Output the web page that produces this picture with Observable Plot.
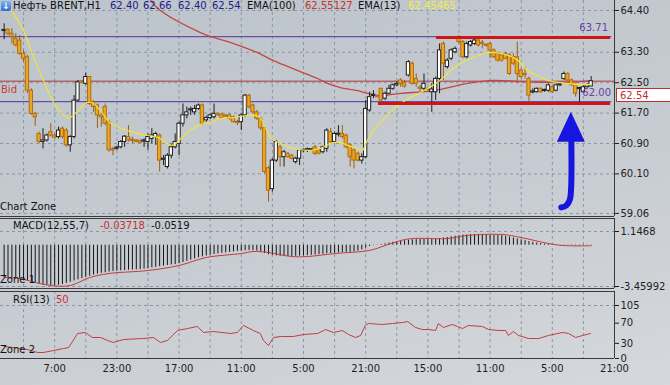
<!DOCTYPE html>
<html><head><meta charset="utf-8">
<script src="https://cdn.jsdelivr.net/npm/d3@7"></script>
<script src="https://cdn.jsdelivr.net/npm/@observablehq/plot@0.6"></script>
<style>
html,body{margin:0;padding:0;}
body{width:670px;height:385px;overflow:hidden;background:linear-gradient(165deg,#bcc3ca 0%,#c7ccd2 55%,#d5d8dc 100%);font-family:"DejaVu Sans",sans-serif;font-size:10px;}
#wrap{position:relative;width:670px;height:385px;}
#wrap svg{position:absolute;left:0;}
.lbl{position:absolute;white-space:nowrap;font-size:10px;line-height:12px;z-index:5;}
</style></head><body><div id="wrap"></div>
<script>
// ---------- data ----------
const openP = [63.86,63.89,63.79,63.65,63.61,63.26,63.17,62.29,61.68,61.15,
60.94,60.98,61.20,61.11,61.07,61.29,61.24,60.85,61.07,62.03,
62.53,62.47,62.65,61.99,61.90,61.64,61.86,61.46,60.74,60.76,
60.80,60.94,61.07,60.98,60.98,60.97,60.95,60.94,61.02,61.07,
61.11,60.47,60.28,60.58,60.80,60.89,61.42,61.64,61.77,61.72,
61.81,61.90,61.51,61.57,61.59,61.68,61.66,61.62,61.64,61.59,
61.45,61.46,61.64,62.16,61.90,61.72,61.55,61.30,60.25,59.70,
60.45,60.80,60.54,60.63,60.58,60.41,60.50,60.70,60.72,60.72,
60.80,60.72,60.67,60.76,61.20,60.94,61.13,61.15,61.11,60.85,
60.72,60.63,60.45,60.54,61.77,62.15,62.14,62.34,62.08,62.21,
62.34,62.43,62.56,62.50,62.69,63.00,62.60,62.35,62.34,62.33,
62.25,62.25,62.60,63.52,62.91,63.13,63.30,63.70,63.57,63.17,
63.48,63.52,63.61,63.53,63.48,63.52,63.35,63.26,63.22,63.26,
63.22,63.17,63.17,62.82,62.72,62.60,62.24,62.25,62.34,62.28,
62.29,62.38,62.29,62.43,62.60,62.73,62.56,62.43,62.33,62.25,
62.38,62.40];
const highP = [64.05,63.92,63.92,63.79,63.74,63.35,63.22,62.34,61.72,61.20,
61.29,61.15,61.42,61.15,61.33,61.33,61.29,61.11,62.16,62.56,
62.56,62.75,62.66,62.03,61.94,61.72,61.94,61.51,60.80,60.82,
60.98,61.11,61.37,61.07,61.00,60.99,61.02,61.15,61.29,61.20,
61.15,60.58,60.63,60.89,61.15,61.46,61.94,61.86,61.86,61.90,
61.94,61.94,61.62,61.68,61.94,61.70,61.70,61.65,61.68,61.62,
61.51,61.68,62.19,62.19,61.94,61.77,61.59,61.33,60.30,60.50,
60.98,60.85,60.72,60.66,60.61,60.54,60.74,60.76,60.78,60.76,
60.85,60.74,60.83,61.29,61.29,61.20,61.37,61.37,61.15,60.89,
60.76,60.67,60.63,62.03,62.25,62.29,62.16,62.34,62.25,62.43,
62.46,62.52,62.60,62.56,63.08,63.04,62.73,62.43,62.73,62.36,
62.47,62.65,63.52,63.57,63.13,63.39,63.44,63.74,63.61,63.57,
63.61,63.65,63.65,63.61,63.52,63.57,63.39,63.30,63.26,63.30,
63.26,63.26,63.57,62.86,62.91,62.65,62.34,62.36,62.36,62.33,
62.47,62.42,62.47,62.47,62.78,62.76,62.60,62.47,62.38,62.43,
62.47,62.66];
const lowP = [63.63,63.74,63.52,63.44,63.22,63.04,62.21,61.64,61.35,60.89,
60.76,60.94,61.07,61.02,61.02,61.02,60.80,60.67,61.02,61.99,
62.47,62.43,61.90,61.72,61.29,61.33,61.37,60.67,60.58,60.72,
60.76,60.80,60.94,60.89,60.92,60.90,60.80,60.72,60.89,60.85,
60.15,60.32,60.23,60.50,60.76,60.58,61.33,61.55,61.64,61.64,
61.77,61.37,61.46,61.53,61.55,61.62,61.55,61.58,61.51,61.44,
61.37,61.24,61.59,61.81,61.68,61.51,61.24,60.10,59.36,59.62,
60.40,60.28,60.28,60.52,60.47,60.36,60.32,60.66,60.66,60.69,
60.58,60.60,60.63,60.67,60.89,60.89,61.07,61.02,60.76,60.28,
60.23,60.41,60.36,60.50,61.72,62.08,62.10,62.01,62.03,62.19,
62.30,62.40,62.38,62.36,62.65,62.43,62.38,62.25,62.25,62.27,
61.72,62.03,62.21,62.56,62.86,63.08,63.26,63.52,63.13,63.13,
63.44,63.48,63.44,63.39,63.44,63.13,63.13,63.04,63.04,63.10,
62.69,62.95,62.47,62.60,62.60,61.99,62.21,62.23,62.22,62.25,
62.25,62.22,62.26,62.40,62.56,62.52,62.40,62.12,61.99,62.22,
62.36,62.40];
const closeP = [63.89,63.79,63.70,63.48,63.26,63.13,62.29,61.68,61.59,60.94,
60.98,61.11,61.11,61.05,61.24,61.07,60.85,61.07,62.03,62.51,
62.50,62.65,61.94,61.86,61.64,61.59,61.42,60.72,60.72,60.78,
60.94,61.08,60.98,60.97,60.94,60.92,60.96,61.07,61.11,61.15,
60.45,60.50,60.58,60.80,60.94,61.42,61.64,61.72,61.78,61.81,
61.90,61.42,61.57,61.64,61.68,61.64,61.57,61.61,61.55,61.46,
61.44,61.64,62.16,61.86,61.72,61.55,61.30,60.15,59.66,60.45,
60.94,60.54,60.67,60.54,60.50,60.50,60.72,60.72,60.74,60.73,
60.63,60.63,60.80,61.24,60.94,61.15,61.15,61.07,60.80,60.54,
60.45,60.45,60.54,61.81,62.12,62.17,62.12,62.03,62.21,62.34,
62.43,62.47,62.47,62.40,63.04,62.47,62.47,62.34,62.47,62.31,
62.32,62.60,63.35,63.00,63.08,63.35,63.39,63.57,63.17,63.52,
63.57,63.61,63.48,63.52,63.47,63.35,63.17,63.08,63.08,63.13,
62.73,63.00,62.73,62.65,62.70,62.16,62.25,62.34,62.25,62.29,
62.43,62.25,62.43,62.44,62.73,62.56,62.43,62.21,62.34,62.38,
62.43,62.54];

// EMA(13) and EMA(100): [bar index, price]
const ema13Pts = [[1.2,64.50],[5.0,63.87],[7.6,63.16],[10.1,62.56],[13.2,61.90],[16.6,61.58],[19.1,61.77],[21.4,61.98],[23.0,61.95],[25.3,61.69],[27.4,61.43],[31.7,61.24],[36.9,61.11],[39.5,61.06],[43.3,60.85],[45.4,61.03],[48.5,61.29],[51.3,61.43],[53.1,61.45],[55.7,61.56],[59.0,61.58],[62.6,61.64],[64.7,61.64],[66.0,61.56],[67.2,61.32],[68.5,61.06],[71.1,60.90],[74.4,60.77],[78.8,60.72],[81.4,60.77],[83.9,60.90],[86.5,60.93],[88.3,60.85],[90.9,60.77],[92.2,60.72],[93.0,60.90],[95.0,61.24],[98.6,61.64],[102.0,61.95],[104.5,62.11],[107.1,62.24],[111.5,62.51],[114.0,62.74],[117.4,63.01],[120.7,63.16],[124.3,63.29],[127.7,63.27],[131.0,63.16],[132.8,63.03],[134.6,62.82],[137.2,62.69],[139.8,62.56],[142.3,62.51],[144.9,62.48],[147.5,62.45],[150.8,62.45]];
const ema100Pts = [[37.7,64.66],[40.2,64.40],[50.5,63.82],[53.9,63.69],[59.0,63.53],[65.2,63.29],[69.3,63.08],[75.5,62.82],[80.6,62.61],[83.2,62.48],[86.5,62.37],[90.9,62.29],[93.5,62.22],[96.8,62.16],[102.0,62.22],[110.4,62.29],[119.2,62.48],[125.9,62.56],[132.0,62.53],[138.0,62.51],[144.9,62.51],[150.8,62.55]];

// MACD histogram per bar and signal line
const macdHist = [-2.70,-2.75,-2.80,-2.80,-2.85,-2.90,-3.00,-3.10,-3.20,-3.25,
-3.30,-3.35,-3.38,-3.38,-3.36,-3.30,-3.20,-3.10,-3.00,-2.90,
-2.80,-2.70,-2.60,-2.50,-2.42,-2.36,-2.30,-2.25,-2.20,-2.18,
-2.15,-2.12,-2.10,-2.08,-2.06,-2.04,-2.00,-1.95,-1.90,-1.85,
-1.80,-1.75,-1.70,-1.66,-1.62,-1.55,-1.45,-1.35,-1.25,-1.15,
-1.05,-0.98,-0.90,-0.84,-0.78,-0.72,-0.68,-0.64,-0.60,-0.56,
-0.52,-0.50,-0.46,-0.44,-0.45,-0.50,-0.58,-0.70,-0.80,-0.86,
-0.90,-0.94,-0.96,-0.96,-0.95,-0.93,-0.92,-0.90,-0.88,-0.85,
-0.82,-0.80,-0.76,-0.72,-0.70,-0.68,-0.65,-0.62,-0.60,-0.60,
-0.58,-0.50,-0.40,-0.25,-0.10,-0.03,0.02,0.06,0.12,0.18,
0.24,0.30,0.35,0.38,0.42,0.45,0.47,0.48,0.49,0.50,
0.50,0.52,0.56,0.60,0.64,0.70,0.75,0.80,0.84,0.86,
0.88,0.90,0.90,0.90,0.88,0.86,0.84,0.82,0.80,0.74,
0.68,0.60,0.52,0.45,0.38,0.30,0.24,0.18,0.13,0.09,
0.06,0.03,0.01,-0.01,-0.02,-0.03,-0.04,-0.05,-0.05,-0.04,
-0.04,-0.04];
const signalPts = [[0,-2.71],[4,-2.79],[8,-3.12],[12,-3.38],[17,-3.38],[22,-2.71],[27,-2.37],[37,-2.12],[45,-1.70],[52,-1.03],[61,-0.70],[64,-0.53],[68,-0.61],[74,-0.95],[78,-0.95],[85,-0.70],[94,-0.44],[98,-0.03],[102,0.39],[105,0.56],[114,0.56],[119,0.81],[128,0.90],[133,0.64],[140,0.14],[144,-0.03],[151,-0.05]];

// RSI(13)
const rsiPts = [[0,23.8],[2.4,21.8],[6.0,17.8],[8.6,11.9],[10.1,11.9],[12.7,15.8],[15.3,19.8],[16.6,21.8],[18.9,49.5],[20.9,51.5],[22.7,41.6],[24.8,41.6],[26.6,35.7],[28.1,31.7],[30.7,37.6],[35.9,39.6],[38.4,41.6],[40.2,31.7],[42.0,35.7],[44.6,55.5],[47.2,59.4],[49.7,63.4],[51.3,51.5],[53.9,53.5],[58.2,49.5],[60.0,51.5],[61.6,65.4],[64.1,55.5],[65.9,49.5],[66.7,35.7],[68.0,25.8],[69.3,41.6],[71.1,43.6],[74.4,43.6],[77.0,47.5],[80.6,49.5],[82.7,57.4],[84.7,51.5],[87.0,55.5],[88.6,47.5],[90.4,41.6],[91.7,45.6],[92.9,65.4],[93.7,69.3],[97.3,67.4],[99.9,69.3],[102.5,71.3],[103.8,73.3],[105.8,61.4],[107.6,57.4],[109.2,57.4],[111.0,55.5],[111.7,69.3],[113.0,61.4],[115.3,67.4],[116.6,63.4],[117.9,59.4],[119.4,65.4],[123.0,63.4],[124.6,57.4],[127.2,55.5],[129.0,55.5],[129.7,45.6],[131.0,53.5],[132.3,45.6],[134.9,39.6],[137.5,39.6],[140.0,45.6],[143.6,51.5],[145.2,49.5],[147.0,41.6],[148.8,45.6],[150.8,49.5]];

// ticks and levels
const priceTicks = [64.40, 63.30, 62.50, 61.70, 60.90, 60.10, 59.06];
const macdTicks = [1.1468, -3.45992];
const rsiTicks = [105, 70, 30, 0];
const rsiGrid = [105];
const xTickIdx = [13, 29, 45, 61, 77, 93, 109, 125, 141, 157];
const xTickLabels = ["7:00","23:00","17:00","11:00","5:00","21:00","15:00","11:00","5:00","21:00"];
const levelLines = [63.71, 62.00];
const bidPrice = 62.54;
const zonePrice = [63.69, 61.95];
const zoneFrom = [111.2, 96.3];
const zoneTo = [156.0, 156.0];
const arrowShaft = [[145.9,60.95],[145.85,59.75],[145.5,59.42],[144.6,59.27],[143.3,59.22]];
const arrowHead = [[142.3,60.93,60.93],[145.9,60.93,61.72],[149.5,60.93,60.93]];

// ---------- chart ----------
const W = 670;
const xDomain = [-0.93, 157];
const gridIdx = d3.range(5, 157, 8);
const gridColor = "#8c97a3";
const dash = {stroke: gridColor, strokeDasharray: "3,3", strokeWidth: 1};
const frameColor = "#3a3a3a";
const base = {width: W, marginLeft: 0, marginRight: 56,
  style: {background: "transparent", color: "#1e1e1e", fontFamily: "DejaVu Sans, sans-serif", fontSize: "10px", overflow: "visible"}};

const candles = closeP.map((c, i) => ({i, o: openP[i], h: highP[i], l: lowP[i], c, up: c >= openP[i]}));
const pts = a => a.map(([i, v]) => ({i, v}));
const zones = zonePrice.map((p, k) => ({p, from: zoneFrom[k], to: zoneTo[k]}));
const xLab = new Map(xTickIdx.map((d, k) => [d, xTickLabels[k]]));

const mainDomain = [58.979, 64.663];
const mainPlot = Plot.plot({...base, height: 217, marginTop: 0, marginBottom: 1,
  x: {domain: xDomain, axis: null},
  y: {domain: mainDomain, axis: "right", ticks: priceTicks, tickFormat: d => d.toFixed(2), tickSize: 4, tickPadding: 2, label: null},
  marks: [
    Plot.ruleY(priceTicks, dash),
    Plot.ruleX(gridIdx, dash),
    Plot.ruleY(levelLines, {x1: xDomain[0], x2: 156.3, stroke: "#5b2d9c", strokeWidth: 1}),
    Plot.ruleY([bidPrice], {stroke: "#b03636", strokeWidth: 1}),
    Plot.line(pts(ema100Pts), {x: "i", y: "v", stroke: "#c24848", strokeWidth: 1.3, curve: "catmull-rom"}),
    Plot.ruleX(candles, {x: "i", y1: "l", y2: "h", stroke: d => d.up ? "#1e1e1e" : "#9c600c", strokeWidth: 1}),
    Plot.rect(candles, {
      x1: d => d.i - 0.42, x2: d => d.i + 0.42,
      y1: d => Math.min(d.o, d.c),
      y2: d => Math.max(Math.max(d.o, d.c), Math.min(d.o, d.c) + 0.03),
      fill: d => d.up ? "#ffffff" : "#eda622",
      stroke: d => d.up ? "#1e1e1e" : "#b06e10", strokeWidth: 1}),
    Plot.line(pts(ema13Pts), {x: "i", y: "v", stroke: "#efe53a", strokeWidth: 1.2, curve: "catmull-rom"}),
    Plot.ruleY(zones, {y: "p", x1: "from", x2: "to", stroke: "#cf1515", strokeWidth: 3}),
    Plot.line(pts(arrowShaft), {x: "i", y: "v", stroke: "#1616e0", strokeWidth: 6, curve: "catmull-rom"}),
    Plot.areaY(arrowHead.map(([i, b, t]) => ({i, b, t})), {x: "i", y1: "b", y2: "t", fill: "#1616e0", curve: "linear"}),
    Plot.ruleY([mainDomain[0]], {stroke: frameColor}),
    Plot.ruleX([xDomain[1]], {stroke: frameColor})
  ]});
mainPlot.style.top = "0px";

const macdDomain = [-3.6274, 2.2357];
const macdPlot = Plot.plot({...base, height: 72, marginTop: 1, marginBottom: 1,
  x: {domain: xDomain, axis: null},
  y: {domain: macdDomain, axis: "right", ticks: macdTicks, tickFormat: d => String(d), tickSize: 4, tickPadding: 2, label: null},
  marks: [
    Plot.ruleY(macdTicks, dash),
    Plot.ruleX(gridIdx, dash),
    Plot.ruleX(macdHist.map((v, i) => ({i, v})), {x: "i", y1: 0, y2: "v", stroke: "#151515", strokeWidth: 1}),
    Plot.line(pts(signalPts), {x: "i", y: "v", stroke: "#c83a3a", strokeWidth: 1, curve: "catmull-rom"}),
    Plot.ruleY(macdDomain, {stroke: frameColor}),
    Plot.ruleX([xDomain[1]], {stroke: frameColor})
  ]});
macdPlot.style.top = "217px";

const rsiDomain = [0, 132.7];
const rsiPlot = Plot.plot({...base, height: 95, marginTop: 1, marginBottom: 27,
  x: {domain: xDomain, axis: "bottom", ticks: xTickIdx, tickFormat: d => xLab.get(d), tickSize: 0, tickPadding: 6, label: null},
  y: {domain: rsiDomain, axis: "right", ticks: rsiTicks, tickFormat: d => String(d), tickSize: 4, tickPadding: 2, label: null},
  marks: [
    Plot.ruleY(rsiGrid, dash),
    Plot.ruleX(gridIdx, dash),
    Plot.line(pts(rsiPts), {x: "i", y: "v", stroke: "#c23e3e", strokeWidth: 1}),
    Plot.ruleY(rsiDomain, {stroke: frameColor}),
    Plot.ruleX([xDomain[1]], {stroke: frameColor})
  ]});
rsiPlot.style.top = "290px";

const wrap = document.getElementById("wrap");
wrap.append(mainPlot, macdPlot, rsiPlot);

// ---------- text overlays ----------
const labels = [
  {t: "Нефть BRENT,H1", x: 13, y: 0, c: "#111"},
  {t: "62.40", x: 110, y: 0, c: "#1c1c8c"},
  {t: "62.66", x: 143, y: 0, c: "#1c1c8c"},
  {t: "62.40", x: 178, y: 0, c: "#1c1c8c"},
  {t: "62.54", x: 212, y: 0, c: "#1c1c8c"},
  {t: "EMA(100)", x: 247, y: 0, c: "#111"},
  {t: "62.55127", x: 305, y: 0, c: "#c83030"},
  {t: "EMA(13)", x: 358, y: 0, c: "#111"},
  {t: "62.45465", x: 408, y: 0, c: "#f2ee3a"},
  {t: "Bid", x: 1, y: 84, c: "#c43c3c"},
  {t: "Chart Zone", x: 0, y: 201, c: "#111"},
  {t: "MACD(12,55,7)", x: 13, y: 220, c: "#111"},
  {t: "-0.03718", x: 100, y: 220, c: "#c83030"},
  {t: "-0.0519", x: 151, y: 220, c: "#111"},
  {t: "Zone 1", x: 0, y: 274, c: "#111"},
  {t: "RSI(13)", x: 13, y: 294, c: "#111"},
  {t: "50", x: 56, y: 294, c: "#c83030"},
  {t: "Zone 2", x: 0, y: 344, c: "#111"}
];
for (const l of labels) {
  const el = document.createElement("div");
  el.className = "lbl";
  el.textContent = l.t;
  el.style.left = l.x + "px"; el.style.top = l.y + "px"; el.style.color = l.c;
  wrap.append(el);
}
const rightLabels = [{t: "63.71", r: 608, y: 22}, {t: "62.00", r: 611, y: 87}];
for (const l of rightLabels) {
  const el = document.createElement("div");
  el.className = "lbl";
  el.textContent = l.t;
  el.style.right = (670 - l.r) + "px"; el.style.top = l.y + "px"; el.style.color = "#6a40a8";
  wrap.append(el);
}
// icon
const icon = document.createElement("div");
icon.className = "lbl";
icon.textContent = "↓";
Object.assign(icon.style, {left: "1px", top: "1px", width: "10px", height: "10px", lineHeight: "10px", textAlign: "center",
  background: "linear-gradient(#7fb6f2,#2c6bd0)", color: "#fff", fontSize: "9px", fontWeight: "bold", borderRadius: "2px"});
wrap.append(icon);
// current price box (placed just under the 62.50 tick label)
const box = document.createElement("div");
box.className = "lbl";
box.textContent = "62.54";
Object.assign(box.style, {left: "616px", top: "88px", width: "56px", height: "14px", lineHeight: "13px", background: "#fff",
  border: "1px solid #c03030", color: "#c03030", paddingLeft: "3px", boxSizing: "border-box"});
wrap.append(box);
</script></body></html>
